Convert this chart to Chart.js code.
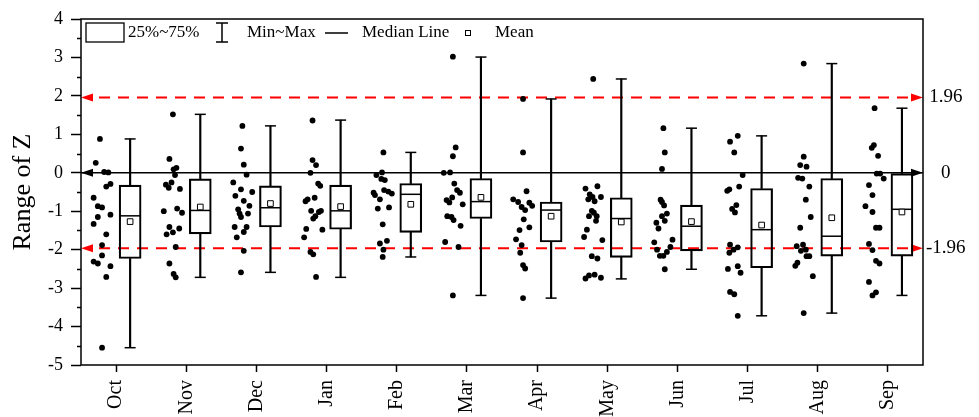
<!DOCTYPE html>
<html>
<head>
<meta charset="utf-8">
<script src="https://cdn.jsdelivr.net/npm/chart.js@4.4.1/dist/chart.umd.min.js"></script>
<style>
  html, body { margin: 0; padding: 0; background: #fff; }
  #wrap { width: 979px; height: 417px; position: relative; }
</style>
</head>
<body>
<div id="wrap"><canvas id="grafico"></canvas></div>
<script>
// months on the x axis
const months = ["Oct", "Nov", "Dec", "Jan", "Feb", "Mar", "Apr", "May", "Jun", "Jul", "Aug", "Sep"];

// box statistics per month
const q1     = [-2.23, -1.59, -1.41, -1.47, -1.55, -1.19, -1.80, -2.20, -2.03, -2.47, -2.17, -2.17];
const q3     = [-0.32, -0.16, -0.34, -0.32, -0.28, -0.15, -0.76, -0.65, -0.84, -0.41, -0.15, -0.02];
const medianV = [-1.12, -0.98, -0.91, -0.99, -0.56, -0.75, -0.97, -1.19, -1.39, -1.48, -1.65, -0.95];
const meanV  = [-1.27, -0.89, -0.80, -0.88, -0.82, -0.64, -1.13, -1.28, -1.27, -1.36, -1.17, -1.02];
const minV   = [-4.55, -2.72, -2.59, -2.72, -2.19, -3.19, -3.26, -2.76, -2.51, -3.72, -3.65, -3.19];
const maxV   = [0.88, 1.52, 1.22, 1.37, 0.53, 3.01, 1.92, 2.44, 1.16, 0.96, 2.84, 1.68];

// critical Z values (right axis)
const critical = [1.96, 0, -1.96];

// raw points per month: [offset from the month tick, Z]
const ptsOct = [[-0.23,0.88],[-0.29,0.26],[-0.17,0.02],[-0.11,0.01],[-0.14,-0.36],[-0.08,-0.29],[-0.32,-0.65],[-0.26,-0.87],[-0.20,-0.90],[-0.08,-1.09],[-0.26,-1.15],[-0.32,-1.33],[-0.14,-1.60],[-0.20,-1.88],[-0.20,-2.15],[-0.32,-2.31],[-0.26,-2.36],[-0.08,-2.43],[-0.14,-2.71],[-0.20,-4.55]];
const ptsNov = [[-0.19,1.52],[-0.24,0.36],[-0.18,0.09],[-0.14,0.13],[-0.16,-0.06],[-0.21,-0.25],[-0.29,-0.31],[-0.25,-0.39],[-0.09,-0.42],[-0.32,-1.0],[-0.13,-0.93],[-0.06,-1.04],[-0.24,-1.41],[-0.28,-1.6],[-0.19,-1.55],[-0.10,-1.45],[-0.15,-1.93],[-0.24,-2.36],[-0.18,-2.63],[-0.15,-2.72]];
const ptsDec = [[-0.20,1.22],[-0.22,0.63],[-0.18,0.21],[-0.14,-0.05],[-0.33,-0.25],[-0.06,-0.50],[-0.22,-0.43],[-0.30,-0.60],[-0.18,-0.73],[-0.26,-0.95],[-0.10,-0.86],[-0.24,-1.06],[-0.12,-1.06],[-0.22,-1.15],[-0.31,-1.41],[-0.14,-1.41],[-0.18,-1.54],[-0.28,-1.68],[-0.18,-2.03],[-0.22,-2.59]];
const ptsJan = [[-0.20,1.36],[-0.20,0.33],[-0.15,0.20],[-0.23,0.0],[-0.12,-0.28],[-0.09,-0.34],[-0.30,-0.74],[-0.27,-0.69],[-0.17,-0.65],[-0.22,-0.99],[-0.11,-1.02],[-0.16,-1.13],[-0.19,-1.19],[-0.08,-0.99],[-0.29,-1.46],[-0.06,-1.48],[-0.32,-1.68],[-0.23,-2.06],[-0.19,-2.12],[-0.15,-2.71]];
const ptsFeb = [[-0.19,0.53],[-0.21,0.01],[-0.29,-0.06],[-0.22,-0.16],[-0.17,-0.19],[-0.33,-0.52],[-0.31,-0.58],[-0.18,-0.45],[-0.12,-0.49],[-0.07,-0.54],[-0.24,-0.69],[-0.11,-0.90],[-0.27,-0.93],[-0.20,-1.34],[-0.14,-1.77],[-0.24,-1.84],[-0.19,-2.0],[-0.20,-2.19]];
const ptsMar = [[-0.20,3.02],[-0.16,0.66],[-0.20,0.43],[-0.33,0.0],[-0.24,0.01],[-0.18,-0.28],[-0.14,-0.45],[-0.10,-0.52],[-0.21,-0.64],[-0.29,-0.71],[-0.25,-0.77],[-0.06,-0.82],[-0.28,-1.13],[-0.22,-1.15],[-0.19,-1.23],[-0.09,-1.38],[-0.31,-1.80],[-0.12,-1.93],[-0.20,-3.19]];
const ptsApr = [[-0.20,1.92],[-0.20,0.53],[-0.15,-0.48],[-0.34,-0.69],[-0.27,-0.76],[-0.22,-0.89],[-0.17,-0.97],[-0.11,-0.78],[-0.07,-0.86],[-0.19,-1.21],[-0.25,-1.49],[-0.11,-1.42],[-0.30,-1.73],[-0.22,-1.88],[-0.24,-2.08],[-0.20,-2.40],[-0.17,-2.49],[-0.20,-3.26]];
const ptsMay = [[-0.20,2.44],[-0.31,-0.41],[-0.14,-0.35],[-0.25,-0.56],[-0.21,-0.63],[-0.09,-0.63],[-0.27,-0.69],[-0.18,-0.74],[-0.22,-0.99],[-0.19,-1.04],[-0.15,-1.13],[-0.26,-1.13],[-0.16,-1.25],[-0.29,-1.48],[-0.33,-1.67],[-0.07,-1.75],[-0.22,-2.17],[-0.14,-2.23],[-0.31,-2.75],[-0.26,-2.67],[-0.18,-2.65],[-0.09,-2.73]];
const ptsJun = [[-0.20,1.16],[-0.18,0.53],[-0.22,0.10],[-0.24,-0.70],[-0.22,-0.76],[-0.19,-0.85],[-0.15,-1.06],[-0.22,-1.13],[-0.18,-1.25],[-0.30,-1.30],[-0.27,-1.45],[-0.07,-1.74],[-0.33,-1.81],[-0.10,-1.93],[-0.29,-2.0],[-0.15,-2.06],[-0.25,-2.16],[-0.20,-2.16],[-0.18,-2.51]];
const ptsJul = [[-0.14,0.96],[-0.25,0.81],[-0.19,0.53],[-0.07,-0.06],[-0.12,-0.36],[-0.29,-0.47],[-0.26,-0.43],[-0.16,-0.84],[-0.22,-0.94],[-0.18,-1.03],[-0.25,-1.87],[-0.14,-1.94],[-0.20,-2.0],[-0.26,-2.08],[-0.28,-2.50],[-0.14,-2.43],[-0.10,-2.60],[-0.25,-3.10],[-0.19,-3.16],[-0.14,-3.72]];
const ptsAug = [[-0.20,2.84],[-0.20,0.42],[-0.25,0.20],[-0.16,0.16],[-0.28,-0.13],[-0.22,-0.15],[-0.12,-0.36],[-0.17,-0.70],[-0.10,-1.15],[-0.25,-1.43],[-0.30,-1.91],[-0.21,-1.87],[-0.17,-2.0],[-0.24,-2.03],[-0.12,-2.17],[-0.16,-2.17],[-0.32,-2.42],[-0.29,-2.34],[-0.07,-2.69],[-0.20,-3.65]];
const ptsSep = [[-0.19,1.68],[-0.23,0.65],[-0.20,0.72],[-0.14,0.44],[-0.16,-0.02],[-0.11,-0.02],[-0.06,-0.15],[-0.27,-0.32],[-0.22,-0.58],[-0.32,-0.87],[-0.22,-1.02],[-0.17,-1.43],[-0.12,-1.43],[-0.27,-1.85],[-0.22,-2.01],[-0.17,-2.29],[-0.12,-2.36],[-0.27,-2.84],[-0.22,-3.19],[-0.17,-3.11]];
const monthPoints = [ptsOct, ptsNov, ptsDec, ptsJan, ptsFeb, ptsMar, ptsApr, ptsMay, ptsJun, ptsJul, ptsAug, ptsSep];

const BOX_DX = 0.2;  // boxes sit right of the tick
const FONT = "'Liberation Serif', 'Times New Roman', serif";
Chart.defaults.font.family = FONT;
Chart.defaults.color = "#000";

const atBox = arr => arr.map((v, i) => ({ x: i + BOX_DX, y: v }));
const scatterPts = monthPoints.flatMap((lst, i) => lst.map(p => ({ x: i + p[0], y: p[1] })));

// ---- reference lines with arrow heads ----
const refLines = {
  id: "refLines",
  beforeDatasetsDraw(chart) {
    const { ctx, chartArea: a, scales: { y } } = chart;
    ctx.save();
    critical.forEach(v => {
      const py = y.getPixelForValue(v);
      const col = v === 0 ? "#000" : "#ff0000";
      ctx.strokeStyle = col;
      ctx.fillStyle = col;
      ctx.beginPath();
      if (v === 0) {
        ctx.lineWidth = 1.5;
        ctx.setLineDash([]);
        ctx.moveTo(a.left, py); ctx.lineTo(a.right, py);
      } else {
        ctx.lineWidth = 2;
        ctx.setLineDash([11, 8]);
        ctx.moveTo(a.left + 18, py); ctx.lineTo(a.right - 12, py);
      }
      ctx.stroke();
      ctx.setLineDash([]);
      // arrows
      ctx.beginPath();
      ctx.moveTo(a.left, py); ctx.lineTo(a.left + 12, py - 4); ctx.lineTo(a.left + 12, py + 4); ctx.closePath();
      ctx.moveTo(a.right, py); ctx.lineTo(a.right - 12, py - 4); ctx.lineTo(a.right - 12, py + 4); ctx.closePath();
      ctx.fill();
    });
    ctx.restore();
  }
};

// ---- frame, minor ticks and legend ----
const frame = {
  id: "frame",
  afterDraw(chart) {
    const { ctx, chartArea: a, scales: { y } } = chart;
    ctx.save();
    ctx.strokeStyle = "#000";
    ctx.lineWidth = 1.5;
    ctx.strokeRect(a.left, a.top, a.right - a.left, a.bottom - a.top);
    // minor ticks
    ctx.beginPath();
    for (let v = -4.5; v < 4; v += 1) {
      const py = Math.round(y.getPixelForValue(v)) + 0.5;
      ctx.moveTo(a.left - 4, py); ctx.lineTo(a.left, py);
    }
    ctx.stroke();

    // legend
    ctx.font = "17px " + FONT;
    ctx.fillStyle = "#000";
    ctx.textBaseline = "middle";
    const ly = 33;
    ctx.lineWidth = 1.3;
    ctx.strokeRect(86, 23, 38, 19);
    ctx.fillText("25%~75%", 128, ly);
    ctx.lineWidth = 1.5;
    ctx.beginPath();
    ctx.moveTo(222, 23); ctx.lineTo(222, 42);
    ctx.moveTo(216, 23); ctx.lineTo(228, 23);
    ctx.moveTo(216, 42); ctx.lineTo(228, 42);
    ctx.moveTo(325, ly); ctx.lineTo(348, ly);
    ctx.stroke();
    ctx.fillText("Min~Max", 247, ly);
    ctx.fillText("Median Line", 362, ly);
    ctx.lineWidth = 1;
    ctx.strokeRect(465.5, 30.5, 5, 5);
    ctx.fillText("Mean", 495, ly);
    ctx.restore();
  }
};

const ctx = document.getElementById("grafico").getContext("2d");
new Chart(ctx, {
  type: "scatter",
  data: {
    datasets: [
      { // mean
        data: atBox(meanV),
        pointStyle: "rect", pointRadius: 4,
        backgroundColor: "#fff", borderColor: "#000", borderWidth: 1
      },
      { // median line
        data: atBox(medianV),
        pointStyle: "line", pointRadius: 10.5,
        borderColor: "#000", borderWidth: 1.5
      },
      { // whisker caps
        data: atBox(minV).concat(atBox(maxV)),
        pointStyle: "line", pointRadius: 5.5,
        borderColor: "#000", borderWidth: 1.5
      },
      { // 25%~75% box
        type: "bar",
        data: q1.map((v, i) => ({ x: i + BOX_DX, y: [v, q3[i]] })),
        grouped: false, barThickness: 22,
        backgroundColor: "rgba(0,0,0,0)", borderColor: "#000",
        borderWidth: 1.5, borderSkipped: false
      },
      { // upper whisker
        type: "bar",
        data: q3.map((v, i) => ({ x: i + BOX_DX, y: [v, maxV[i]] })),
        grouped: false, barThickness: 1.5,
        backgroundColor: "#000", borderWidth: 0
      },
      { // lower whisker
        type: "bar",
        data: minV.map((v, i) => ({ x: i + BOX_DX, y: [v, q1[i]] })),
        grouped: false, barThickness: 1.5,
        backgroundColor: "#000", borderWidth: 0
      },
      { // raw Z points
        data: scatterPts,
        pointStyle: "circle", pointRadius: 2.9,
        backgroundColor: "#000", borderWidth: 0
      }
    ]
  },
  options: {
    responsive: true,
    maintainAspectRatio: false,
    animation: false,
    events: [],
    layout: { padding: { top: 19, left: 0, right: 0, bottom: 0 } },
    plugins: { legend: { display: false }, tooltip: { enabled: false } },
    scales: {
      x: {
        type: "linear", min: -0.5, max: 11.5, offset: false,
        afterBuildTicks: s => { s.ticks = months.map((m, i) => ({ value: i })); },
        afterFit: s => { s.height = 52; },
        ticks: {
          autoSkip: false, maxRotation: 90, minRotation: 90, padding: 8,
          font: { size: 20 },
          callback: v => months[v]
        },
        grid: { display: true, offset: false, drawOnChartArea: false, tickLength: 7, tickWidth: 1.5, tickColor: "#000" },
        border: { display: false }
      },
      y: {
        min: -5, max: 4,
        afterFit: s => { s.width = 81; },
        ticks: { stepSize: 1, padding: 8, font: { size: 18 } },
        grid: { display: true, drawOnChartArea: false, tickLength: 10, tickWidth: 1.5, tickColor: "#000" },
        border: { display: false },
        title: { display: true, text: "Range of Z", font: { size: 26 }, padding: { top: 8, bottom: 0 } }
      },
      yRight: {
        position: "right", min: -5, max: 4,
        afterBuildTicks: s => { s.ticks = critical.map(v => ({ value: v })); },
        afterFit: s => { s.width = 56; },
        ticks: {
          crossAlign: "center", padding: 3, font: { size: 19 },
          callback: v => (v === 0 ? "0" : String(v))
        },
        grid: { display: false, drawTicks: false },
        border: { display: false }
      }
    }
  },
  plugins: [refLines, frame]
});
</script>
</body>
</html>
